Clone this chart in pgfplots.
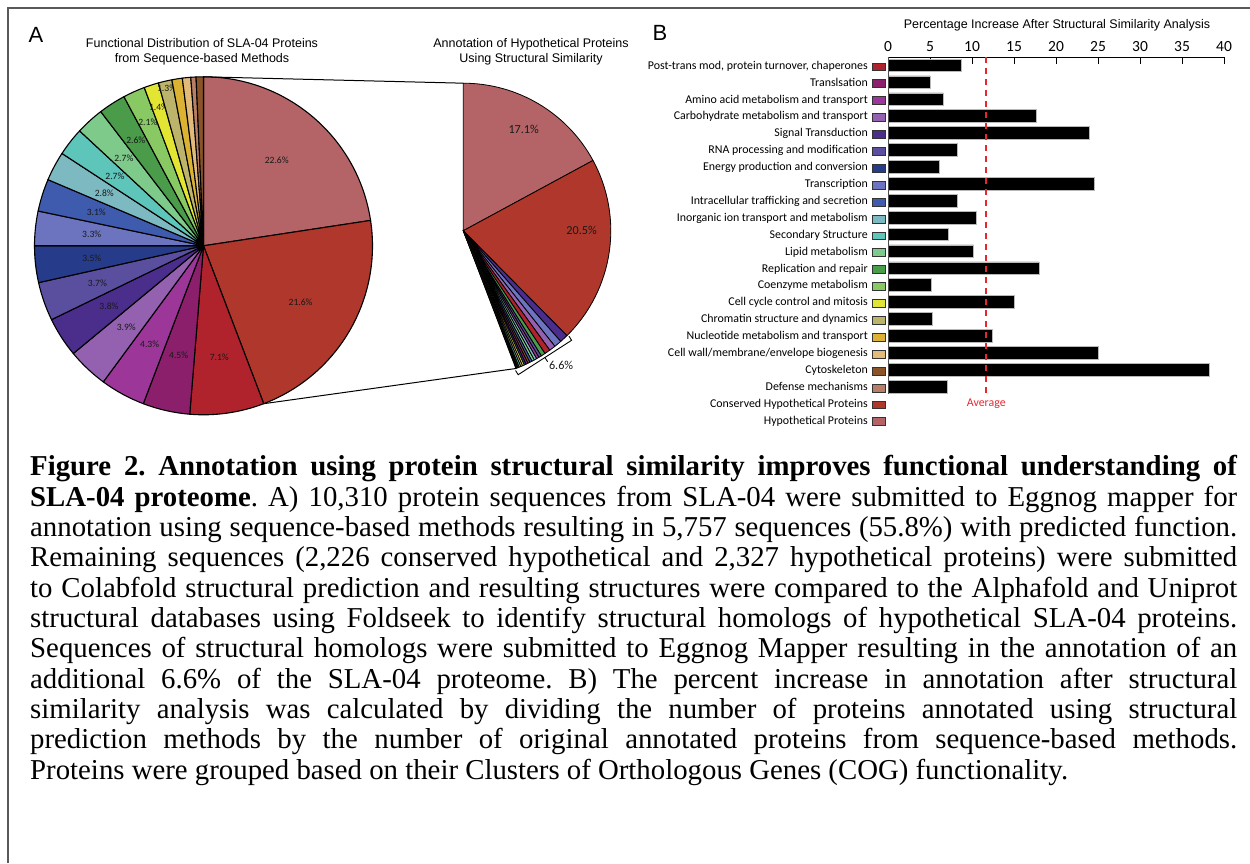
\documentclass[border=0pt]{standalone}
\usepackage{pgfplots}
\pgfplotsset{compat=1.18}
\usepackage{fontspec}
\setmainfont{Liberation Serif}
\newfontfamily\arial{Liberation Sans}
\newfontfamily\carlito{Carlito}
\frenchspacing

\definecolor{cHyp}{HTML}{B46466}
\definecolor{cCons}{HTML}{B0372B}
\definecolor{cPost}{HTML}{B0232D}
\definecolor{cTransl}{HTML}{8B1F6B}
\definecolor{cAmino}{HTML}{9C3799}
\definecolor{cCarb}{HTML}{9461B0}
\definecolor{cSignal}{HTML}{4B2D8C}
\definecolor{cRNA}{HTML}{5A4F9F}
\definecolor{cEnergy}{HTML}{263C8A}
\definecolor{cTranscr}{HTML}{6C74C0}
\definecolor{cIntra}{HTML}{3F5BAD}
\definecolor{cInorg}{HTML}{7DB9C0}
\definecolor{cSecond}{HTML}{5EC5BA}
\definecolor{cLipid}{HTML}{7ECA8A}
\definecolor{cRepl}{HTML}{4A9B4A}
\definecolor{cCoenz}{HTML}{88C964}
\definecolor{cCycle}{HTML}{E2E633}
\definecolor{cChrom}{HTML}{BDB46B}
\definecolor{cNucl}{HTML}{DCB233}
\definecolor{cWall}{HTML}{E2BB7A}
\definecolor{cCyto}{HTML}{8B5428}
\definecolor{cDef}{HTML}{B87E66}
\definecolor{avgred}{HTML}{E8262E}

\newcommand\labfont{\carlito\fontsize{11.9}{13}\selectfont}
\newcommand\titfont{\arial\fontsize{12.5}{15}\selectfont}
\newcommand\capfont{\fontsize{28.8}{30}\selectfont}
\newcommand\sw[1]{\hspace{4pt}{\setlength\fboxsep{0pt}\setlength\fboxrule{0.9pt}\raisebox{-1.2pt}{\fcolorbox{black!80}{#1}{\rule{0pt}{7pt}\rule{12.2pt}{0pt}}}}}

\tikzset{
  pielabA/.style={font=\carlito\fontsize{9.6}{10}\selectfont, text=black!90, inner sep=0pt},
  pielabB/.style={font=\carlito\fontsize{12.2}{13}\selectfont, text=black!90, inner sep=0pt},
  pielineA/.style={draw=black, line width=1.1pt, line join=round},
  pielineB/.style={draw=black, line width=0.8pt, line join=round},
}

% pie slice: #1 radius, #2 percent, #3 colour, #4 label radius factor, #5 label
\newcommand\pcum{0}
\newcommand\pieslice[5]{%
  \pgfmathsetmacro\sA{90-3.6*\pcum}%
  \pgfmathsetmacro\sB{90-3.6*(\pcum+#2)}%
  \pgfmathsetmacro\sM{(\sA+\sB)/2}%
  \pgfmathsetmacro\xA{#1*cos(\sA)}%
  \pgfmathsetmacro\yA{#1*sin(\sA)}%
  \pgfmathsetmacro\xL{#4*#1*cos(\sM)}%
  \pgfmathsetmacro\yL{#4*#1*sin(\sM)}%
  \edef\pieTmp{\noexpand\filldraw[fill=#3, \pielinestyle] (axis cs:0,0) -- (axis cs:\xA,\yA) arc[start angle=\sA, end angle=\sB, radius=#1pt] -- cycle;}%
  \pieTmp
  \edef\pieTmp{\noexpand\node[\pielabstyle] at (axis cs:\xL,\yL) {\unexpanded{#5}};}%
  \pieTmp
  \pgfmathsetmacro\newcum{\pcum+#2}%
  \xdef\pcum{\newcum}%
}

\begin{document}
\begin{tikzpicture}[x=1pt,y=1pt]
\path[use as bounding box] (0,0) rectangle (1250,863);
\draw[line width=2pt, black!65] (8,0) -- (8,855) -- (1250,855);

% panel letters and titles
\node[font=\arial\fontsize{22}{24}\selectfont] at (36,828) {A};
\node[font=\arial\fontsize{22}{24}\selectfont] at (660,830) {B};
\node[font=\titfont, align=center] at (202,811.5) {Functional Distribution of SLA-04 Proteins\\from Sequence-based Methods};
\node[font=\titfont, align=center] at (531,811.5) {Annotation of Hypothetical Proteins\\Using Structural Similarity};
\node[font=\titfont] at (1057,838) {Percentage Increase After Structural Similarity Analysis};

% ---------- Pie 1 ----------
\def\pielabstyle{pielabA}\def\pielinestyle{pielineA}\gdef\pcum{0}
\begin{axis}[at={(203.5pt,617.2pt)}, anchor=center, hide axis, scale only axis,
  x=1pt, y=1pt, xmin=-172, xmax=172, ymin=-172, ymax=172, clip=false]
\pieslice{169}{22.6}{cHyp}{0.665}{22.6\%}
\pieslice{169}{21.6}{cCons}{0.665}{21.6\%}
\pieslice{169}{7.1}{cPost}{0.665}{7.1\%}
\pieslice{169}{4.5}{cTransl}{0.665}{4.5\%}
\pieslice{169}{4.3}{cAmino}{0.665}{4.3\%}
\pieslice{169}{3.9}{cCarb}{0.665}{3.9\%}
\pieslice{169}{3.8}{cSignal}{0.665}{3.8\%}
\pieslice{169}{3.7}{cRNA}{0.665}{3.7\%}
\pieslice{169}{3.5}{cEnergy}{0.665}{3.5\%}
\pieslice{169}{3.3}{cTranscr}{0.665}{3.3\%}
\pieslice{169}{3.1}{cIntra}{0.665}{3.1\%}
\pieslice{169}{2.8}{cInorg}{0.665}{2.8\%}
\pieslice{169}{2.7}{cSecond}{0.665}{2.7\%}
\pieslice{169}{2.7}{cLipid}{0.70}{2.7\%}
\pieslice{169}{2.6}{cRepl}{0.74}{2.6\%}
\pieslice{169}{2.1}{cCoenz}{0.80}{2.1\%}
\pieslice{169}{1.4}{cCycle}{0.86}{1.4\%}
\pieslice{169}{1.3}{cChrom}{0.96}{1.3\%}
\pieslice{169}{1.0}{cNucl}{0.5}{}
\pieslice{169}{0.8}{cWall}{0.5}{}
\pieslice{169}{0.5}{cDef}{0.5}{}
\pieslice{169}{0.7}{cCyto}{0.5}{}
\end{axis}

% ---------- Pie 2 ----------
\def\pielabstyle{pielabB}\def\pielinestyle{pielineB}\gdef\pcum{0}
\begin{axis}[at={(463.3pt,632.3pt)}, anchor=center, hide axis, scale only axis,
  x=1pt, y=1pt, xmin=-150, xmax=150, ymin=-150, ymax=150, clip=false]
\pieslice{147.5}{17.1}{cHyp}{0.80}{17.1\%}
\pieslice{147.5}{20.5}{cCons}{0.5}{}
\pieslice{147.5}{0.92}{cSignal}{0.5}{}
\pieslice{147.5}{0.82}{cTranscr}{0.5}{}
\pieslice{147.5}{0.69}{cCarb}{0.5}{}
\pieslice{147.5}{0.63}{cPost}{0.5}{}
\pieslice{147.5}{0.47}{cRepl}{0.5}{}
\pieslice{147.5}{0.30}{cRNA}{0.5}{}
\pieslice{147.5}{0.29}{cAmino}{0.5}{}
\pieslice{147.5}{0.29}{cInorg}{0.5}{}
\pieslice{147.5}{0.28}{cLipid}{0.5}{}
\pieslice{147.5}{0.26}{cIntra}{0.5}{}
\pieslice{147.5}{0.23}{cCyto}{0.5}{}
\pieslice{147.5}{0.23}{cTransl}{0.5}{}
\pieslice{147.5}{0.21}{cEnergy}{0.5}{}
\pieslice{147.5}{0.21}{cCycle}{0.5}{}
\pieslice{147.5}{0.20}{cWall}{0.5}{}
\pieslice{147.5}{0.19}{cSecond}{0.5}{}
\pieslice{147.5}{0.14}{cNucl}{0.5}{}
\pieslice{147.5}{0.11}{cCoenz}{0.5}{}
\pieslice{147.5}{0.07}{cChrom}{0.5}{}
\pieslice{147.5}{0.06}{cDef}{0.5}{}
\node[pielabB] at (axis cs:118.3,0.7) {20.5\%};
\draw[line width=0.9pt] (axis cs:105.6,-105.4) -- (axis cs:108.3,-109.6) -- (axis cs:54.9,-144.0) -- (axis cs:52.2,-139.8);
\draw[line width=0.9pt] (axis cs:81.6,-126.8) -- (axis cs:84.3,-131.0);
\node[pielabB, anchor=north west] at (axis cs:85.5,-130.5) {6.6\%};
\end{axis}

% connecting lines
\draw[line width=1pt] (203.5,786.2) -- (463.3,779.8);
\draw[line width=1pt] (263.7,459.3) -- (515.9,494.5);

% ---------- Bar chart ----------
\begin{axis}[at={(888pt,805.5pt)}, anchor=north west, scale only axis,
  x=8.4pt, y=16.9pt, xmin=0, xmax=40, ymin=-21.5, ymax=0.47,
  axis x line*=top, axis y line*=left,
  x axis line style={-, line width=1.1pt},
  y axis line style={draw=none},
  xtick={0,5,...,40}, tick align=inside, major tick length=7pt,
  xtick style={line width=1pt, black},
  xticklabel style={font=\carlito\fontsize{15.5}{16}\selectfont, yshift=2pt},
  ytick={0,-1,...,-21},
  ytick style={draw=none},
  yticklabel style={font=\labfont, anchor=base east, inner sep=0pt, yshift=-3.8pt, xshift=-2pt},
  yticklabels={
    {Post-trans mod, protein turnover, chaperones\sw{cPost}},
    {Translsation\sw{cTransl}},
    {Amino acid metabolism and transport\sw{cAmino}},
    {Carbohydrate metabolism and transport\sw{cCarb}},
    {Signal Transduction\sw{cSignal}},
    {RNA processing and modification\sw{cRNA}},
    {Energy production and conversion\sw{cEnergy}},
    {Transcription\sw{cTranscr}},
    {Intracellular trafficking and secretion\sw{cIntra}},
    {Inorganic ion transport and metabolism\sw{cInorg}},
    {Secondary Structure\sw{cSecond}},
    {Lipid metabolism\sw{cLipid}},
    {Replication and repair\sw{cRepl}},
    {Coenzyme metabolism\sw{cCoenz}},
    {Cell cycle control and mitosis\sw{cCycle}},
    {Chromatin structure and dynamics\sw{cChrom}},
    {Nucleotide metabolism and transport\sw{cNucl}},
    {Cell wall/membrane/envelope biogenesis\sw{cWall}},
    {Cytoskeleton\sw{cCyto}},
    {Defense mechanisms\sw{cDef}},
    {Conserved Hypothetical Proteins\sw{cCons}},
    {Hypothetical Proteins\sw{cHyp}}},
  /pgf/number format/assume math mode=true,
  clip=false]
\addplot[xbar, bar width=12.7pt, fill=black, draw=gray!55, line width=0.6pt] coordinates {
  (8.7,0) (5.0,-1) (6.6,-2) (17.6,-3) (24.0,-4) (8.2,-5) (6.1,-6) (24.6,-7)
  (8.3,-8) (10.5,-9) (7.2,-10) (10.2,-11) (18.0,-12) (5.2,-13) (15.0,-14)
  (5.3,-15) (12.4,-16) (25.0,-17) (38.2,-18) (7.0,-19)};
\addplot[avgred, line width=1.6pt, dash pattern=on 6pt off 5pt] coordinates {(11.7,0.47) (11.7,-19.6)};
\draw[line width=1pt, black!70] (axis cs:0,0.47) -- (axis cs:0,-19.45);
\node[font=\labfont, text=avgred] at (axis cs:11.7,-20) {Average};
\end{axis}

% ---------- Caption ----------
\begin{scope}[every node/.style={anchor=base west, inner sep=0pt, font=\capfont}]
\node at (30,387.0) {\makebox[1207pt][s]{\textbf{Figure 2. Annotation using protein structural similarity improves functional understanding of}}};
\node at (30,356.7) {\makebox[1207pt][s]{\textbf{SLA-04 proteome}. A) 10,310 protein sequences from SLA-04 were submitted to Eggnog mapper for}};
\node at (30,326.4) {\makebox[1207pt][s]{annotation using sequence-based methods resulting in 5,757 sequences (55.8\%) with predicted function.}};
\node at (30,296.1) {\makebox[1207pt][s]{Remaining sequences (2,226 conserved hypothetical and 2,327 hypothetical proteins) were submitted}};
\node at (30,265.8) {\makebox[1207pt][s]{to Colabfold structural prediction and resulting structures were compared to the Alphafold and Uniprot}};
\node at (30,235.5) {\makebox[1207pt][s]{structural databases using Foldseek to identify structural homologs of hypothetical SLA-04 proteins.}};
\node at (30,205.2) {\makebox[1207pt][s]{Sequences of structural homologs were submitted to Eggnog Mapper resulting in the annotation of an}};
\node at (30,174.9) {\makebox[1207pt][s]{additional 6.6\% of the SLA-04 proteome. B) The percent increase in annotation after structural}};
\node at (30,144.6) {\makebox[1207pt][s]{similarity analysis was calculated by dividing the number of proteins annotated using structural}};
\node at (30,114.3) {\makebox[1207pt][s]{prediction methods by the number of original annotated proteins from sequence-based methods.}};
\node at (30,84.0) {Proteins were grouped based on their Clusters of Orthologous Genes (COG) functionality.};
\end{scope}
\end{tikzpicture}
\end{document}
